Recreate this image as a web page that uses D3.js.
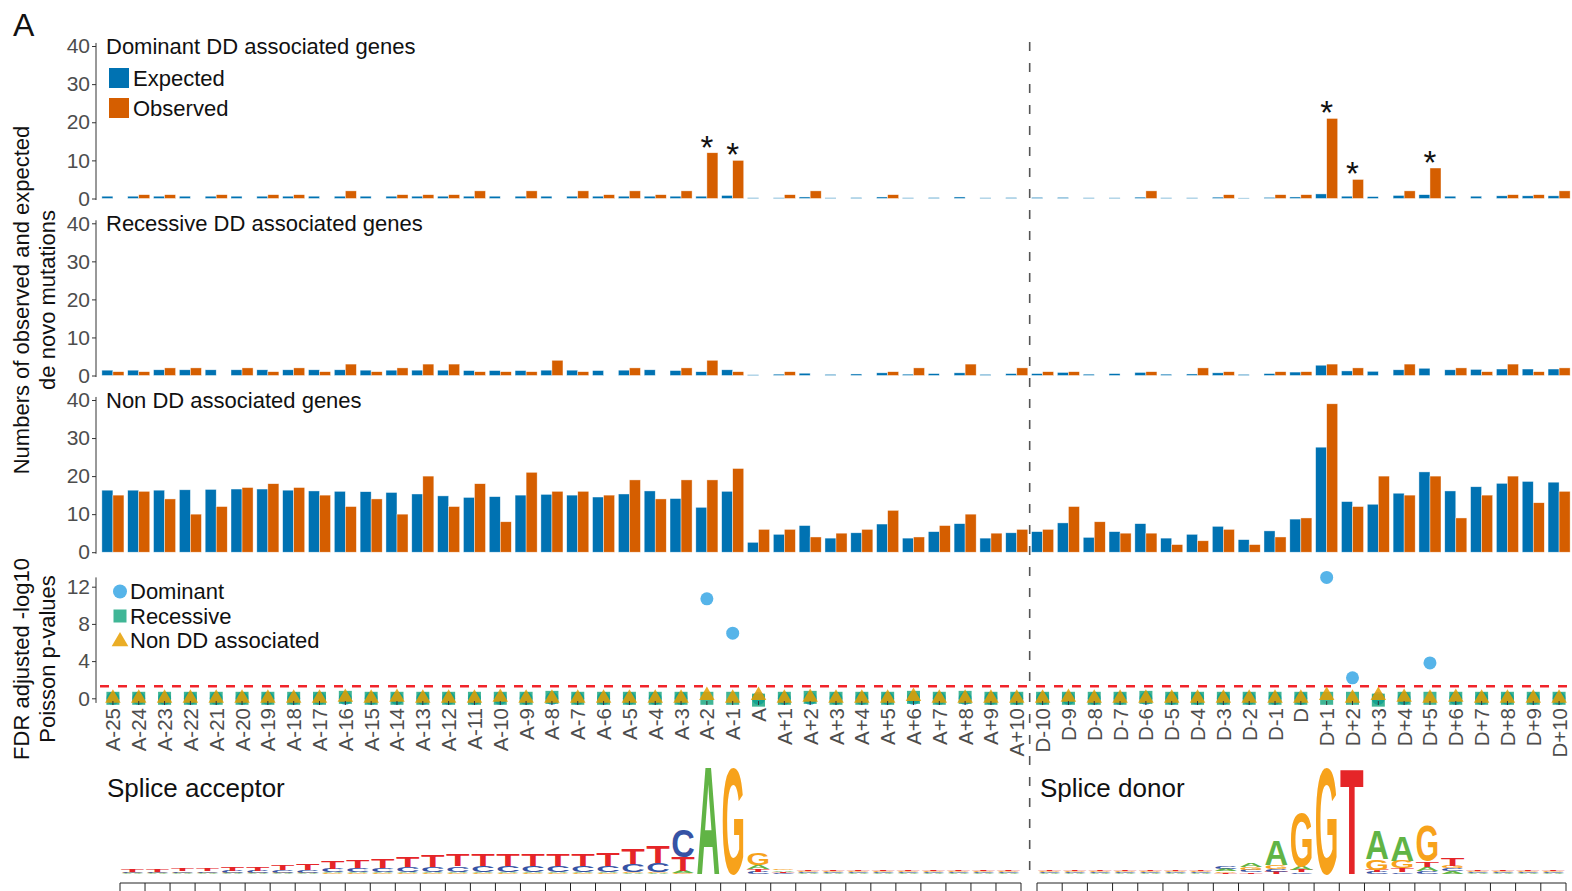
<!DOCTYPE html>
<html>
<head>
<meta charset="utf-8">
<script src="https://cdn.jsdelivr.net/npm/d3@7"></script>
<style>
  body { margin: 0; background: #fff; }
  svg { display: block; }
  text { font-family: "Liberation Sans", Arial, Helvetica, sans-serif; }
</style>
</head>
<body>
<svg id="chart" width="1572" height="891"></svg>
<script>
// ---- Positions around the splice sites ----
const acceptorSites = ["A-25","A-24","A-23","A-22","A-21","A-20","A-19","A-18","A-17","A-16",
  "A-15","A-14","A-13","A-12","A-11","A-10","A-9","A-8","A-7","A-6","A-5","A-4","A-3","A-2","A-1",
  "A","A+1","A+2","A+3","A+4","A+5","A+6","A+7","A+8","A+9","A+10"];
const donorSites = ["D-10","D-9","D-8","D-7","D-6","D-5","D-4","D-3","D-2","D-1",
  "D","D+1","D+2","D+3","D+4","D+5","D+6","D+7","D+8","D+9","D+10"];
const categories = acceptorSites.concat(donorSites);

// ---- Expected / observed de novo mutation counts (acceptor block, then donor block) ----
const domExpected = [0.6,0.6,0.6,0.6,0.6,0.6,0.6,0.6,0.6,0.6,0.6,0.6,0.6,0.6,0.6,0.6,0.6,0.6,0.6,0.6,0.6,0.6,0.6,0.6,0.8,
  0.2,0.2,0.4,0.2,0.25,0.4,0.2,0.25,0.4,0.2,0.25,
  0.3,0.3,0.2,0.2,0.35,0.2,0.2,0.35,0.15,0.3,0.4,1.2,0.6,0.5,0.8,1.0,0.6,0.6,0.7,0.7,0.7];
const domObserved = [0,1,1,0,1,0,1,1,0,2,0,1,1,1,2,0,2,0,2,1,2,1,2,12,10,
  0,1,2,0,0,1,0,0,0,0,0,
  0,0,0,0,2,0,0,1,0,1,1,21,5,0,2,8,0,0,1,1,2];

const recExpected = [1.4,1.4,1.5,1.5,1.5,1.5,1.5,1.5,1.5,1.5,1.4,1.4,1.4,1.4,1.3,1.3,1.3,1.4,1.4,1.3,1.4,1.5,1.3,1.0,1.5,
  0.2,0.35,0.6,0.3,0.4,0.7,0.35,0.5,0.7,0.3,0.5,
  0.5,0.8,0.35,0.5,0.8,0.35,0.4,0.7,0.3,0.5,0.9,2.7,1.2,1.1,1.5,1.9,1.5,1.6,1.7,1.7,1.7];
const recObserved = [1,1,2,2,0,2,1,2,1,3,1,2,3,3,1,1,1,4,1,0,2,0,2,4,1,
  0,1,0,0,0,1,2,0,3,0,2,
  1,1,0,0,1,0,2,1,0,1,1,3,2,0,3,0,2,1,3,1,2];

const nonExpected = [16.3,16.3,16.3,16.4,16.5,16.6,16.6,16.3,16.1,16.0,15.9,15.7,15.3,14.8,14.4,14.6,15.0,
  15.2,15.0,14.5,15.3,16.1,14.1,11.8,16.0,
  2.6,4.7,7.0,3.7,5.1,7.4,3.7,5.4,7.5,3.7,5.1,
  5.4,7.7,3.9,5.4,7.5,3.7,4.7,6.8,3.3,5.6,8.7,27.6,13.3,12.6,15.5,21.1,16.1,17.2,18.1,18.6,18.4];
const nonObserved = [15,16,14,10,12,17,18,17,15,12,14,10,20,12,18,8,21,
  16,16,15,19,14,19,19,22,
  6,6,4,5,6,11,4,7,10,5,6,
  6,12,8,5,5,2,3,6,2,4,9,39,12,20,15,20,9,15,20,13,16];

// ---- FDR adjusted -log10 Poisson p-values ----
const pDominant = [0,0,0,0,0,0,0,0,0,0,0,0,0,0,0,0,0,0,0,0,0,0,0,10.7,7.0,
  0,0,0,0,0,0,0,0,0,0,0,
  0,0,0,0,0,0,0,0,0,0,0,13.0,2.2,0,0,3.8,0,0,0,0,0];
const pRecessive = [0,0,0,0,0,0,0,0,0,0.1,0,0,0,0,0,0,0,0.1,0,0,0,0,0,0,0,
  -0.2,0,0.1,0,0,0,0.1,0,0.1,0,0,
  0,0,0,0,0.1,0,0,0,0,0,0,0,0,-0.2,0,0,0,0,0,0,0];
const pNonDD = [0,0,0,0,0,0,0,0,0,0.1,0,0.1,0,0,0,0.1,0,0,0,0,0,0,0,0.3,0,
  0.3,0,0.1,0,0,0,0.2,0,0,0,0,
  0,0.1,0,0,0,0,0,0,0,0,0,0.3,0,0.3,0.1,0,0.1,0,0,0,0];
const significanceLevel = -Math.log10(0.05);

const countTicks = [0, 10, 20, 30, 40];
const pTicks = [0, 4, 8, 12];

// ---- Sequence logo information content (bits) per base ----
const logoA = [0.01,0.01,0.01,0.01,0.01,0.01,0.01,0.01,0.02,0.02,0.02,0.02,0.02,0.02,0.02,0.02,0.02,0.02,0.02,0.02,0.02,0.02,
  0.04,1.96,0,0.07,0.03,0.02,0.02,0.02,0.02,0.02,0.02,0.02,0.02,0.02,
  0.015,0.015,0.015,0.015,0.015,0.015,0.015,0.04,0.07,0.45,0.07,0,0,0.52,0.44,0.08,0.05,0.02,0.02,0.02,0.02];
const logoC = [0.02,0.02,0.03,0.03,0.04,0.04,0.04,0.05,0.06,0.07,0.08,0.09,0.09,0.1,0.11,0.11,0.11,0.11,0.11,0.11,0.14,0.16,
  0.5,0,0,0.04,0.02,0.02,0.02,0.02,0.02,0.02,0.02,0.02,0.02,0.02,
  0.015,0.015,0.015,0.015,0.015,0.015,0.015,0.04,0.04,0.05,0.03,0,0,0.04,0.03,0.05,0.05,0.02,0.02,0.02,0.02];
const logoG = [0.01,0.01,0.01,0.01,0.01,0.01,0.015,0.015,0.015,0.015,0.015,0.015,0.015,0.015,0.015,0.015,0.015,0.015,0.015,0.015,0.02,0.02,
  0.02,0,1.92,0.2,0.03,0.02,0.02,0.02,0.02,0.02,0.02,0.02,0.02,0.02,
  0.015,0.015,0.015,0.015,0.015,0.015,0.015,0.03,0.05,0.07,0.98,1.93,0,0.18,0.14,0.65,0.05,0.02,0.02,0.02,0.02];
const logoT = [0.04,0.04,0.05,0.05,0.07,0.07,0.09,0.11,0.13,0.14,0.16,0.18,0.2,0.2,0.21,0.21,0.21,0.21,0.21,0.23,0.29,0.3,
  0.25,0,0,0.05,0.02,0.02,0.02,0.02,0.02,0.02,0.02,0.02,0.02,0.02,
  0.015,0.015,0.015,0.015,0.015,0.015,0.015,0.02,0.03,0.04,0.05,0,1.93,0.04,0.07,0.1,0.14,0.02,0.02,0.02,0.02];

// ---- Styling ----
const colExpected = "#0072B2", colObserved = "#D55E00";
const colDom = "#56B4E9", colRec = "#009E73", colNon = "#E69F00";
const baseColors = {A: "#61b445", C: "#3653a5", G: "#f7a21b", T: "#e52528"};
const tickText = "#4d4d4d";

const svg = d3.select("#chart");

const x = d3.scaleBand().domain(categories).range([100, 1572]).padding(0);
const xSub = d3.scaleBand().domain(["expected", "observed"])
  .range([0, x.bandwidth()]).paddingInner(0).paddingOuter(0.17);
const xc = c => x(c) + x.bandwidth() / 2;
const axisX = 96;

function drawYAxis(scale, ticks, lo, hi) {
  const g = svg.append("g").attr("transform", `translate(${axisX},0)`);
  g.call(d3.axisLeft(scale).tickValues(ticks).tickSize(4).tickPadding(2).tickFormat(d3.format("d")));
  g.select(".domain").remove();
  g.selectAll(".tick line").attr("stroke", "#333");
  g.selectAll(".tick text").attr("fill", tickText).style("font-size", "21px")
    .style("font-family", '"Liberation Sans", Arial, sans-serif');
  g.append("line").attr("x1", 0).attr("x2", 0)
    .attr("y1", scale(lo)).attr("y2", scale(hi)).attr("stroke", "#333").attr("stroke-width", 1);
}

// ---- Bar panels ----
const barPanels = [
  {title: "Dominant DD associated genes", expected: domExpected, observed: domObserved, top: 46, bottom: 198.5, titleY: 54},
  {title: "Recessive DD associated genes", expected: recExpected, observed: recObserved, top: 223.3, bottom: 375.5, titleY: 231},
  {title: "Non DD associated genes", expected: nonExpected, observed: nonObserved, top: 400, bottom: 552.2, titleY: 408}
];

barPanels.forEach((p, pi) => {
  const y = d3.scaleLinear().domain([0, 40]).range([p.bottom, p.top]);
  drawYAxis(y, countTicks, -0.4, 40.8);

  const rows = categories.map((c, i) => ({c, expected: p.expected[i], observed: p.observed[i]}));
  const groups = svg.append("g").selectAll("g").data(rows).join("g")
    .attr("transform", d => `translate(${x(d.c)},0)`);
  groups.selectAll("rect")
    .data(d => [{k: "expected", v: d.expected}, {k: "observed", v: d.observed}])
    .join("rect")
    .attr("x", d => xSub(d.k))
    .attr("width", xSub.bandwidth())
    .attr("y", d => y(d.v))
    .attr("height", d => Math.max(0, y(0) - y(d.v)))
    .attr("fill", d => d.k === "expected" ? colExpected : colObserved)
    .attr("stroke", "#fff").attr("stroke-width", 0.6).attr("stroke-opacity", 0.7);

  svg.append("text").attr("x", 106).attr("y", p.titleY)
    .style("font-size", "22px").attr("fill", "#111").text(p.title);

  if (pi === 0) {
    // significance marks above observed bars
    const sig = rows.filter((d, i) => pDominant[i] > significanceLevel);
    svg.append("g").selectAll("text").data(sig).join("text")
      .attr("x", d => xc(d.c)).attr("y", d => y(d.observed) + 6)
      .attr("text-anchor", "middle").style("font-size", "33px").attr("fill", "#111")
      .text("*");

    const legend = [{k: "Expected", col: colExpected, y: 68}, {k: "Observed", col: colObserved, y: 98}];
    const lg = svg.append("g").selectAll("g").data(legend).join("g");
    lg.append("rect").attr("x", 109).attr("y", d => d.y).attr("width", 20).attr("height", 20)
      .attr("fill", d => d.col);
    lg.append("text").attr("x", 133).attr("y", d => d.y + 18).style("font-size", "22px")
      .attr("fill", "#111").text(d => d.k);
  }
});

// ---- P-value panel ----
const yP = d3.scaleLinear().domain([0, 12]).range([698.3, 586.7]);
drawYAxis(yP, pTicks, -0.5, 13);

svg.append("line").attr("x1", 100).attr("x2", 1572)
  .attr("y1", yP(significanceLevel)).attr("y2", yP(significanceLevel))
  .attr("stroke", "#f0242a").attr("stroke-width", 2.5).attr("stroke-dasharray", "9,9");

const pRows = categories.map((c, i) => ({c, dom: pDominant[i], rec: pRecessive[i], non: pNonDD[i]}));
const triangle = d3.symbol().type(d3.symbolTriangle).size(105);

svg.append("g").selectAll("circle").data(pRows).join("circle")
  .attr("cx", d => xc(d.c)).attr("cy", d => yP(d.dom)).attr("r", 6.5).attr("fill", colDom);
svg.append("g").selectAll("rect").data(pRows).join("rect")
  .attr("x", d => xc(d.c) - 6.5).attr("y", d => yP(d.rec) - 6.5)
  .attr("width", 13).attr("height", 13).attr("fill", colRec).attr("fill-opacity", 0.75);
svg.append("g").selectAll("path").data(pRows).join("path")
  .attr("transform", d => `translate(${xc(d.c)},${yP(d.non)})`)
  .attr("d", triangle).attr("fill", colNon).attr("fill-opacity", 0.85);

// x ticks and labels
svg.append("g").selectAll("line").data(categories).join("line")
  .attr("x1", xc).attr("x2", xc).attr("y1", 701).attr("y2", 705).attr("stroke", "#333");
svg.append("g").selectAll("text").data(categories).join("text")
  .attr("transform", c => `translate(${xc(c)},708) rotate(-90)`)
  .attr("text-anchor", "end").attr("dominant-baseline", "central")
  .style("font-size", "20.5px").attr("fill", tickText).text(c => c);

// p-value legend
const pLegend = [
  {k: "Dominant", shape: "circle", col: colDom, y: 591.5},
  {k: "Recessive", shape: "square", col: colRec, y: 616},
  {k: "Non DD associated", shape: "triangle", col: colNon, y: 640.5}
];
pLegend.forEach(d => {
  if (d.shape === "circle") {
    svg.append("circle").attr("cx", 120).attr("cy", d.y).attr("r", 7).attr("fill", d.col);
  } else if (d.shape === "square") {
    svg.append("rect").attr("x", 113.5).attr("y", d.y - 6.5).attr("width", 13).attr("height", 13)
      .attr("fill", d.col).attr("fill-opacity", 0.75);
  } else {
    svg.append("path").attr("transform", `translate(120,${d.y + 1})`)
      .attr("d", d3.symbol().type(d3.symbolTriangle).size(120)).attr("fill", d.col).attr("fill-opacity", 0.85);
  }
  svg.append("text").attr("x", 130).attr("y", d.y + 7.5).style("font-size", "22px")
    .attr("fill", "#111").text(d.k);
});

// ---- Axis titles ----
function vTitle(lines, cx, cy) {
  lines.forEach((t, i) => {
    svg.append("text").attr("transform", `translate(${cx[i]},${cy}) rotate(-90)`)
      .attr("text-anchor", "middle").style("font-size", "22px").attr("fill", "#111").text(t);
  });
}
vTitle(["Numbers of observed and expected", "de novo mutations"], [29, 55], 300);
vTitle(["FDR adjusted -log10", "Poisson p-values"], [29, 55], 659);

svg.append("text").attr("x", 13).attr("y", 36).style("font-size", "32px").attr("fill", "#111").text("A");

// ---- Acceptor / donor separator ----
svg.append("line").attr("x1", x("D-10")).attr("x2", x("D-10")).attr("y1", 42).attr("y2", 880)
  .attr("stroke", "#555").attr("stroke-width", 1.6).attr("stroke-dasharray", "9,12");

// ---- Sequence logos ----
svg.append("text").attr("x", 107).attr("y", 797).style("font-size", "26px").attr("fill", "#111").text("Splice acceptor");
svg.append("text").attr("x", 1040).attr("y", 797).style("font-size", "26px").attr("fill", "#111").text("Splice donor");

const logoBase = 874, bitPx = 56;
const xLogoAcc = d3.scaleBand().domain(acceptorSites).range([120, 1021]);
const xLogoDon = d3.scaleBand().domain(donorSites).range([1037, 1566]);
const logoScale = c => acceptorSites.includes(c) ? xLogoAcc : xLogoDon;

// advance widths of the glyphs at 100px
const probe = svg.append("g").attr("opacity", 0);
const adv = {}, capH = 71.6;
["A","C","G","T"].forEach(b => {
  const t = probe.append("text").style("font-size", "100px").style("font-weight", "bold").text(b);
  adv[b] = t.node().getComputedTextLength();
});
probe.remove();

const logoLayer = svg.append("g");
categories.forEach((c, i) => {
  const sc = logoScale(c);
  const w = sc.bandwidth() * 0.94;
  const x0 = sc(c) + (sc.bandwidth() - w) / 2;
  const stack = [
    {b: "A", h: logoA[i] * bitPx}, {b: "C", h: logoC[i] * bitPx},
    {b: "G", h: logoG[i] * bitPx}, {b: "T", h: logoT[i] * bitPx}
  ].filter(d => d.h > 0.2).sort((a, b) => a.h - b.h);
  let yb = logoBase;
  stack.forEach(d => {
    logoLayer.append("text")
      .attr("transform", `translate(${x0},${yb}) scale(${w / adv[d.b]},${d.h / capH})`)
      .style("font-size", "100px").style("font-weight", "bold")
      .attr("fill", baseColors[d.b]).text(d.b);
    yb -= d.h;
  });
});

// logo position axes
[[xLogoAcc, acceptorSites], [xLogoDon, donorSites]].forEach(([sc, sites]) => {
  const g = svg.append("g");
  const r = sc.range();
  g.append("line").attr("x1", r[0]).attr("x2", r[1]).attr("y1", 883).attr("y2", 883).attr("stroke", "#222");
  const edges = sites.map(s => sc(s)).concat([r[1]]);
  g.selectAll(".edge").data(edges).join("line").attr("class", "edge")
    .attr("x1", d => d).attr("x2", d => d).attr("y1", 883).attr("y2", 891).attr("stroke", "#222");
});
</script>
</body>
</html>
